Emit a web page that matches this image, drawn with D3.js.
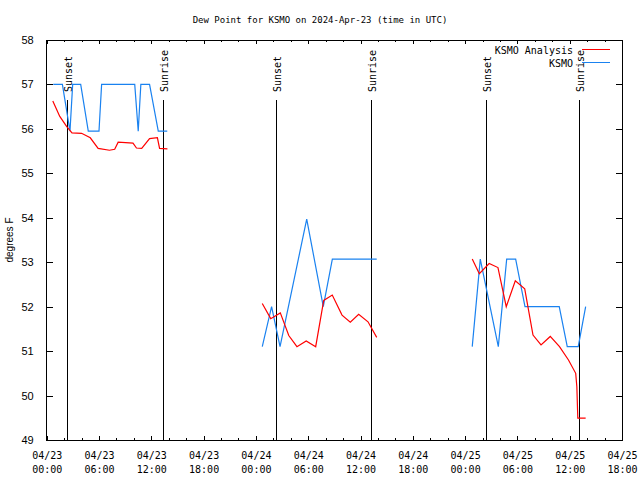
<!DOCTYPE html>
<html><head><meta charset="utf-8">
<script src="https://cdn.jsdelivr.net/npm/d3@7"></script>
<style>
body{margin:0;background:#fff;}
svg{display:block;}
</style></head>
<body><svg id="c" width="640" height="480" font-family="DejaVu Sans Mono, monospace" font-size="10"></svg>
<script>
// Hours since 2024-04-23 00:00 UTC
const titleText = "Dew Point for KSMO on 2024-Apr-23 (time in UTC)";
const yLabel = "degrees F";
const seriesNames = ["KSMO Analysis", "KSMO"];

// KSMO Analysis (red), three segments
const analysisHours = [
  [0.7,1.5,2.3,2.9,4.0,5.0,5.9,7.2,7.8,8.2,9.9,10.3,10.9,11.8,12.7,12.95,13.85],
  [24.73,25.7,26.8,27.77,28.71,29.77,30.86,31.78,32.76,33.88,34.83,35.79,36.86,37.86],
  [48.82,49.63,50.76,51.77,52.72,53.76,54.84,55.79,56.71,57.77,58.83,59.86,60.69,60.82,60.93,61.83]
];
const analysisValues = [
  [56.63,56.28,56.05,55.91,55.9,55.8,55.56,55.52,55.54,55.7,55.68,55.57,55.56,55.78,55.8,55.56,55.55],
  [52.07,51.73,51.86,51.35,51.1,51.23,51.1,52.14,52.26,51.81,51.65,51.83,51.66,51.31],
  [53.07,52.74,52.97,52.88,52.0,52.58,52.4,51.36,51.14,51.33,51.1,50.8,50.5,50.2,49.49,49.49]
];
// KSMO observations (blue), three segments
const obsHours = [
  [0.75,1.8,2.67,2.98,3.9,4.77,6.0,6.3,10.1,10.5,10.8,11.8,12.8,13.83],
  [24.73,25.8,26.77,29.83,31.73,32.77,37.86],
  [48.82,49.74,51.81,52.77,53.8,54.87,58.8,59.72,60.98,61.83]
];
const obsValues = [
  [57.0,57.0,55.95,57.0,57.0,55.95,55.95,57.0,57.0,55.95,57.0,57.0,55.95,55.95],
  [51.1,52.0,51.1,53.97,52.0,53.07,53.07],
  [51.1,53.07,51.1,53.07,53.07,52.0,52.0,51.1,51.1,52.0]
];
const sunsetHours = [2.36, 26.3, 50.43];
const sunriseHours = [13.31, 37.26, 61.1];
const yTicks = [49,50,51,52,53,54,55,56,57,58];

const t0 = Date.UTC(2024,3,23,0,0);
const toDate = h => new Date(t0 + h*3600000);

const svg = d3.select("#c");
const L = 46.7, R = 622, T = 40, B = 440;
const x = d3.scaleUtc().domain([toDate(0), toDate(66)]).range([L, R]);
const y = d3.scaleLinear().domain([49,58]).range([B, T]);

const g = svg.append("g").attr("shape-rendering","crispEdges");

// border
g.append("rect").attr("x",L).attr("y",T).attr("width",R-L).attr("height",B-T)
  .attr("fill","none").attr("stroke","#000");

const majorTicks = d3.range(0,67,6).map(toDate);
const minorTicks = d3.range(0,67,2).filter(h=>h%6!==0).map(toDate);
const fmtD = d3.utcFormat("%m/%d"), fmtT = d3.utcFormat("%H:%M");
const MONO = "DejaVu Sans Mono, monospace", SANS = "Liberation Sans, Arial, sans-serif";

// bottom axis
const bx = svg.append("g").attr("transform",`translate(0,${B})`).attr("shape-rendering","crispEdges")
  .call(d3.axisBottom(x).tickValues(majorTicks).tickSizeInner(-4).tickSizeOuter(0).tickPadding(12).tickFormat(()=>""));
bx.select(".domain").remove();
bx.selectAll(".tick text").each(function(d){
  const t = d3.select(this).attr("y",null).attr("dy",null);
  t.append("tspan").attr("x",0).attr("y",19).text(fmtD(d));
  t.append("tspan").attr("x",0).attr("y",33).text(fmtT(d));
});
bx.attr("font-family",MONO).attr("font-size",10);
const bxm = svg.append("g").attr("transform",`translate(0,${B})`).attr("shape-rendering","crispEdges")
  .call(d3.axisBottom(x).tickValues(minorTicks).tickSizeInner(-2).tickSizeOuter(0).tickFormat(""));
bxm.select(".domain").remove();
// top axis
const tx = svg.append("g").attr("transform",`translate(0,${T})`).attr("shape-rendering","crispEdges")
  .call(d3.axisTop(x).tickValues(majorTicks).tickSizeInner(-4).tickSizeOuter(0).tickFormat(""));
tx.select(".domain").remove();
const txm = svg.append("g").attr("transform",`translate(0,${T})`).attr("shape-rendering","crispEdges")
  .call(d3.axisTop(x).tickValues(minorTicks).tickSizeInner(-2).tickSizeOuter(0).tickFormat(""));
txm.select(".domain").remove();
// left axis
const ly = svg.append("g").attr("transform",`translate(${L},0)`).attr("shape-rendering","crispEdges")
  .call(d3.axisLeft(y).tickValues(yTicks).tickSizeInner(-6).tickSizeOuter(0).tickPadding(13).tickFormat(d3.format("d")));
ly.select(".domain").remove();
ly.attr("font-family",SANS).attr("font-size",11);
// right axis
const ry = svg.append("g").attr("transform",`translate(${R},0)`).attr("shape-rendering","crispEdges")
  .call(d3.axisRight(y).tickValues(yTicks).tickSizeInner(-6).tickSizeOuter(0).tickFormat(""));
ry.select(".domain").remove();
svg.selectAll(".tick line").attr("stroke","#000");
svg.selectAll(".tick text").attr("fill","#000");

// sunset / sunrise lines
const sunEvents = sunsetHours.map(h=>({h,label:"Sunset"})).concat(sunriseHours.map(h=>({h,label:"Sunrise"})));
sunEvents.forEach(ev=>{
  const xp = Math.round(x(toDate(ev.h)))+0.5;
  svg.append("line").attr("x1",xp).attr("x2",xp).attr("y1",100).attr("y2",B)
    .attr("stroke","#000").attr("shape-rendering","crispEdges");
  svg.append("text").attr("transform",`translate(${xp+4},92) rotate(-90)`)
    .attr("text-anchor","start").attr("font-family",MONO).attr("font-size",10).text(ev.label);
});

// series
const line = d3.line().x(d=>x(toDate(d[0]))).y(d=>y(d[1]));
function drawSeries(hours, values, color){
  hours.forEach((hs,i)=>{
    const pts = hs.map((h,j)=>[h, values[i][j]]);
    svg.append("path").datum(pts).attr("d",line).attr("fill","none")
      .attr("stroke",color).attr("stroke-width",1.2);
  });
}
drawSeries(obsHours, obsValues, "#1a82f0");
drawSeries(analysisHours, analysisValues, "#ff0000");

// legend
const legend = [{name:seriesNames[0],color:"#ff0000",y:49.5},{name:seriesNames[1],color:"#1a82f0",y:62.5}];
legend.forEach(l=>{
  svg.append("text").attr("x",573).attr("y",l.y+4).attr("text-anchor","end")
    .attr("font-family",MONO).attr("font-size",10).text(l.name);
  svg.append("line").attr("x1",582).attr("x2",610).attr("y1",l.y).attr("y2",l.y)
    .attr("stroke",l.color).attr("shape-rendering","crispEdges");
});

// title & y label
svg.append("text").attr("x",320).attr("y",23).attr("text-anchor","middle")
  .attr("font-family",MONO).attr("font-size",9).text(titleText);
svg.append("text").attr("transform","translate(13,240) rotate(-90)").attr("text-anchor","middle")
  .attr("font-family",SANS).attr("font-size",10).text(yLabel);
</script></body></html>
